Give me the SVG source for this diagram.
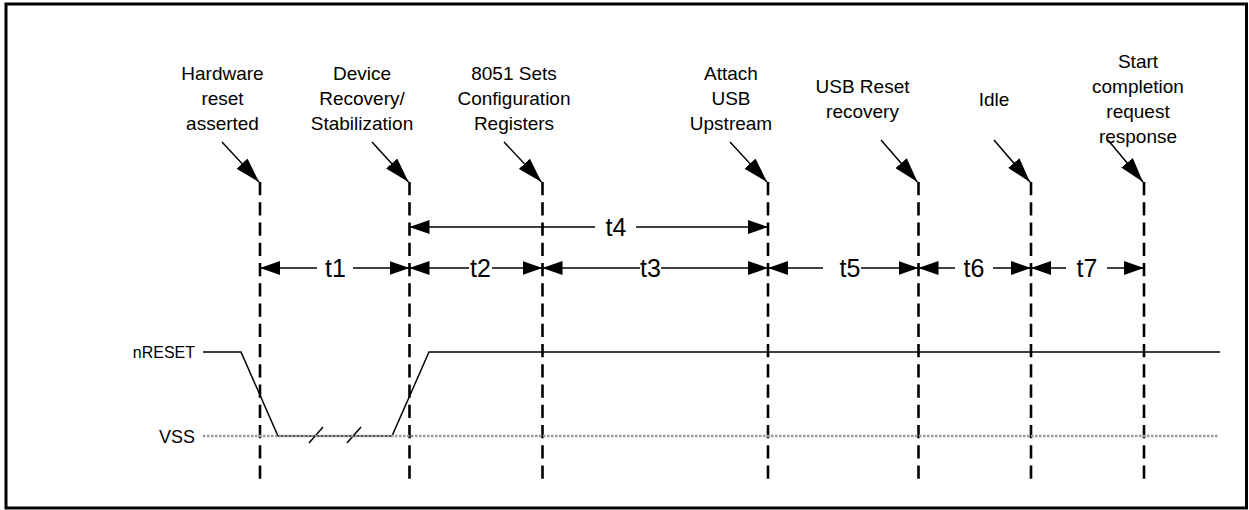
<svg xmlns="http://www.w3.org/2000/svg" width="1249" height="510" viewBox="0 0 1249 510">
<defs>
<style>
text{font-family:"Liberation Sans",Arial,Helvetica,sans-serif;fill:#000}
.lbl{font-size:19px;text-anchor:middle}
.t{font-size:25px;text-anchor:middle}
.sig{font-size:18px;text-anchor:end}
.dash{stroke:#000;stroke-width:2.6;stroke-dasharray:13.25 7;fill:none}
.dim{stroke:#000;stroke-width:1.5;fill:none;marker-end:url(#ah)}
.ptr{stroke:#000;stroke-width:1.5;fill:none;marker-end:url(#ap)}
.wave{stroke:#000;stroke-width:1.5;fill:none}
.vss{stroke:#9a9a9a;stroke-width:2.5;stroke-dasharray:2.5 1.5;fill:none}
</style>
<marker id="ah" viewBox="0 0 20 14" refX="20" refY="7" markerWidth="20" markerHeight="14" orient="auto" markerUnits="userSpaceOnUse"><path d="M0,0 L20,7 L0,14 Z" fill="#000"/></marker>
<marker id="ap" viewBox="0 0 25 15" refX="25" refY="7.5" markerWidth="25" markerHeight="15" orient="auto" markerUnits="userSpaceOnUse"><path d="M0,0 L25,7.5 L0,15 Z" fill="#000"/></marker>
</defs>
<rect id="frame" x="6" y="4" width="1240.5" height="504" fill="#fff" stroke="#000" stroke-width="3"/>

<g id="event-hw-reset">
<text class="lbl" x="222.5" y="80">Hardware</text>
<text class="lbl" x="222.5" y="105">reset</text>
<text class="lbl" x="222.5" y="130">asserted</text>
<line class="dash" x1="260" y1="182" x2="260" y2="479"/>
</g>
<g id="event-device-recovery">
<text class="lbl" x="362" y="80">Device</text>
<text class="lbl" x="362" y="105">Recovery/</text>
<text class="lbl" x="362" y="130">Stabilization</text>
<line class="dash" x1="409.5" y1="182" x2="409.5" y2="479"/>
</g>
<g id="event-8051-config">
<text class="lbl" x="514" y="80">8051 Sets</text>
<text class="lbl" x="514" y="105">Configuration</text>
<text class="lbl" x="514" y="130">Registers</text>
<line class="dash" x1="542.5" y1="182" x2="542.5" y2="479"/>
</g>
<g id="event-attach-usb">
<text class="lbl" x="731" y="80">Attach</text>
<text class="lbl" x="731" y="105">USB</text>
<text class="lbl" x="731" y="130">Upstream</text>
<line class="dash" x1="768" y1="182" x2="768" y2="479"/>
</g>
<g id="event-usb-reset">
<text class="lbl" x="862.5" y="93">USB Reset</text>
<text class="lbl" x="862.5" y="118">recovery</text>
<line class="dash" x1="918.5" y1="182" x2="918.5" y2="479"/>
</g>
<g id="event-idle">
<text class="lbl" x="994" y="106">Idle</text>
<line class="dash" x1="1031" y1="182" x2="1031" y2="479"/>
</g>
<g id="event-start-completion">
<text class="lbl" x="1138" y="68">Start</text>
<text class="lbl" x="1138" y="93">completion</text>
<text class="lbl" x="1138" y="118">request</text>
<text class="lbl" x="1138" y="143">response</text>
<line class="dash" x1="1144" y1="182" x2="1144" y2="479"/>
</g>

<g id="signal-nreset">
<text class="sig" x="195" y="358" style="font-size:16px">nRESET</text>
<polyline class="wave" points="203,352 241,352 278,436 392,436 429,352 1220,352"/>
<line class="wave" x1="309" y1="443" x2="323" y2="427"/>
<line class="wave" x1="347" y1="443" x2="361" y2="427"/>
</g>
<g id="signal-vss">
<text class="sig" x="195" y="442.5">VSS</text>
<line class="vss" x1="203" y1="436" x2="1219" y2="436"/>
</g>

<g id="interval-labels">
<text class="t" x="335.5" y="277">t1</text>
<text class="t" x="480.5" y="277">t2</text>
<text class="t" x="650.5" y="277">t3</text>
<text class="t" x="616" y="236">t4</text>
<text class="t" x="850" y="277">t5</text>
<text class="t" x="974" y="277">t6</text>
<text class="t" x="1087" y="277">t7</text>
</g>

<g id="connectors">
<line class="ptr" x1="222" y1="142" x2="259" y2="182"/>
<line class="ptr" x1="372" y1="142" x2="408.5" y2="182"/>
<line class="ptr" x1="504" y1="142" x2="541.5" y2="182"/>
<line class="ptr" x1="730" y1="142" x2="767" y2="182"/>
<line class="ptr" x1="881" y1="140" x2="917.5" y2="182"/>
<line class="ptr" x1="994" y1="140" x2="1030" y2="182"/>
<line class="ptr" x1="1108" y1="140" x2="1143" y2="182"/>

<line class="dim" x1="317" y1="268" x2="260" y2="268"/>
<line class="dim" x1="353" y1="268" x2="409.5" y2="268"/>
<line class="dim" x1="469" y1="268" x2="409.5" y2="268"/>
<line class="dim" x1="492" y1="268" x2="542.5" y2="268"/>
<line class="dim" x1="640" y1="268" x2="542.5" y2="268"/>
<line class="dim" x1="661" y1="268" x2="768" y2="268"/>
<line class="dim" x1="823" y1="268" x2="768" y2="268"/>
<line class="dim" x1="861" y1="268" x2="918.5" y2="268"/>
<line class="dim" x1="955" y1="268" x2="918.5" y2="268"/>
<line class="dim" x1="993" y1="268" x2="1031" y2="268"/>
<line class="dim" x1="1066" y1="268" x2="1031" y2="268"/>
<line class="dim" x1="1107" y1="268" x2="1144" y2="268"/>

<line class="dim" x1="595" y1="227" x2="409.5" y2="227"/>
<line class="dim" x1="636" y1="227" x2="768" y2="227"/>
</g>
</svg>
